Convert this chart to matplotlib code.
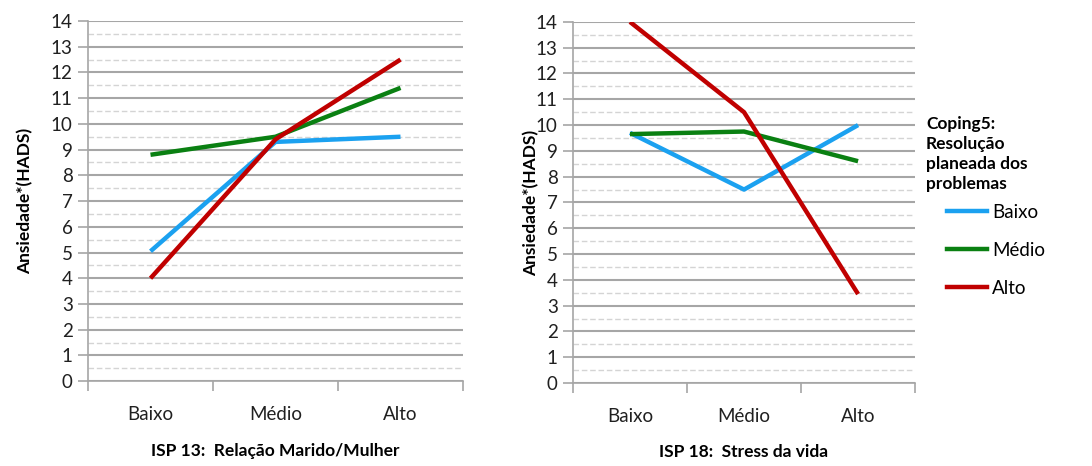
import numpy as np
import matplotlib.pyplot as plt
from matplotlib.lines import Line2D

plt.rcParams['font.family'] = ['Lato', 'DejaVu Sans']

categorias = ["Baixo", "Médio", "Alto"]

# ISP 13: Relação Marido/Mulher
isp13_baixo = [5.05, 9.3, 9.5]
isp13_medio = [8.8, 9.5, 11.4]
isp13_alto = [4.0, 9.4, 12.5]

# ISP 18: Stress da vida
isp18_baixo = [9.7, 7.5, 10.0]
isp18_medio = [9.65, 9.75, 8.6]
isp18_alto = [14.0, 10.5, 3.45]

series_nomes = ["Baixo", "Médio", "Alto"]
cores = ["#1BA1F0", "#0A8012", "#C00000"]

fig = plt.figure(figsize=(10.92, 4.66), dpi=100)
ax1 = fig.add_axes([0.0806, 0.182, 0.3434, 0.773])
ax2 = fig.add_axes([0.5247, 0.178, 0.3133, 0.775])


def desenha(ax, dados, titulo, ylabel_x):
    x = np.arange(len(categorias))
    for y, c in zip(dados, cores):
        ax.plot(x, y, color=c, lw=3.2, solid_capstyle='butt', zorder=3)
    ax.set_xlim(-0.5, 2.5)
    ax.set_ylim(0, 14)
    ax.set_yticks(np.arange(0, 15, 1))
    ax.set_yticks(np.arange(0.5, 14, 1), minor=True)
    ax.set_xticks([-0.5, 0.5, 1.5, 2.5])
    ax.set_xticklabels([])
    ax.set_xticks(x, minor=True)
    ax.set_xticklabels(categorias, minor=True)
    ax.tick_params(axis='x', which='major', length=7, color='#A6A6A6', width=1.2)
    ax.tick_params(axis='x', which='minor', length=0, pad=18, labelsize=13.5, labelcolor='#202020')
    ax.tick_params(axis='y', which='major', length=7, color='#A6A6A6', width=1.2, labelsize=13.5,
                   labelcolor='#202020', pad=4)
    ax.tick_params(axis='y', which='minor', length=0)
    ax.grid(axis='y', which='major', color='#A6A6A6', lw=1.5, zorder=1)
    ax.grid(axis='y', which='minor', color='#D4D4D4', lw=1.0, ls=(0, (4, 2)), zorder=1)
    for s in ['top', 'right']:
        ax.spines[s].set_visible(False)
    for s in ['left', 'bottom']:
        ax.spines[s].set_color('#A6A6A6')
        ax.spines[s].set_linewidth(1.2)
    ax.set_ylabel("Ansiedade*(HADS)", fontsize=12.5, fontweight='bold')
    ax.yaxis.set_label_coords(ylabel_x, 0.5)
    ax.set_xlabel(titulo, fontsize=12.5, fontweight='bold', labelpad=14)


desenha(ax1, [isp13_baixo, isp13_medio, isp13_alto], "ISP 13:  Relação Marido/Mulher", -0.145)
desenha(ax2, [isp18_baixo, isp18_medio, isp18_alto], "ISP 18:  Stress da vida", -0.098)

# título da legenda e entradas
fig.text(0.848, 0.750, "Coping5:\nResolução\nplaneada dos\nproblemas", fontsize=12.5,
         fontweight='bold', va='top', ha='left', linespacing=1.3)
handles = [Line2D([0], [0], color=c, lw=3.2) for c in cores]
fig.legend(handles, series_nomes, loc='upper left', bbox_to_anchor=(0.867, 0.563),
           frameon=False, fontsize=13.5, handlelength=2.15, labelspacing=1.12,
           handletextpad=0.25, borderpad=0, borderaxespad=0)

fig.savefig("out.png", dpi=100)
